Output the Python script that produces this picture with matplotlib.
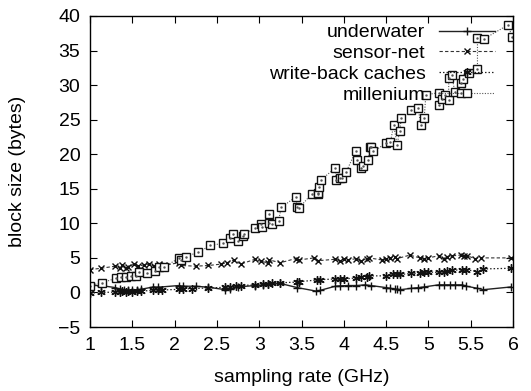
import matplotlib
matplotlib.use("Agg")
import matplotlib.pyplot as plt

plt.rcParams['font.family'] = ['Liberation Sans', 'DejaVu Sans']

# underwater (+, solid)
uw_x = [1.0, 1.13, 1.30, 1.35, 1.40, 1.45, 1.50, 1.55, 1.60, 1.75, 1.80, 2.05, 2.10, 2.25, 2.40,
        2.60, 2.65, 2.75, 2.95, 3.05, 3.10, 3.25, 3.45, 3.67, 3.72, 3.90, 3.95, 4.05, 4.15, 4.25,
        4.32, 4.50, 4.55, 4.60, 4.63, 4.67, 4.80, 4.88, 4.95, 5.12, 5.18, 5.25, 5.32, 5.40, 5.45,
        5.58, 5.65, 5.98]
uw_y = [1.0, 1.0, 0.7, 0.5, 0.4, 0.35, 0.35, 0.4, 0.45, 0.8, 0.75, 1.0, 0.9, 0.9, 0.75,
        0.4, 0.45, 0.8, 1.0, 1.1, 1.2, 1.3, 0.7, 0.2, 0.3, 0.9, 0.95, 1.0, 1.0, 1.1,
        1.0, 0.7, 0.6, 0.5, 0.45, 0.4, 0.6, 0.7, 0.8, 1.1, 1.1, 1.1, 1.1, 1.1, 0.9,
        0.6, 0.4, 0.8]

# sensor-net (x, dashed)
sn_x = [1.0, 1.13, 1.30, 1.35, 1.38, 1.42, 1.45, 1.52, 1.57, 1.64, 1.70, 1.76, 1.82, 1.87, 2.05,
        2.08, 2.25, 2.40, 2.55, 2.62, 2.70, 2.78, 2.95, 3.02, 3.10, 3.12, 3.25, 3.43, 3.47, 3.65,
        3.70, 3.90, 3.95, 4.00, 4.05, 4.15, 4.20, 4.27, 4.30, 4.45, 4.50, 4.55, 4.60, 4.63, 4.78,
        4.90, 4.95, 5.00, 5.12, 5.18, 5.22, 5.28, 5.38, 5.42, 5.46, 5.55, 5.62, 5.98]
sn_y = [3.3, 3.5, 3.8, 3.6, 4.0, 3.5, 3.7, 4.1, 3.8, 4.0, 4.1, 3.8, 4.1, 3.9, 4.3,
        3.9, 3.8, 3.9, 4.1, 4.3, 4.7, 4.1, 4.8, 4.5, 4.3, 4.7, 4.3, 4.9, 4.7, 5.0,
        4.6, 4.8, 4.6, 4.9, 4.7, 4.9, 4.5, 4.9, 5.0, 4.7, 4.8, 5.0, 5.1, 4.9, 5.4,
        5.0, 4.8, 5.0, 5.3, 4.9, 5.2, 5.3, 5.4, 5.3, 5.3, 4.9, 5.0, 5.0]

# write-back caches (*, dotted)
wb_x = [1.0, 1.13, 1.30, 1.35, 1.38, 1.42, 1.45, 1.50, 1.55, 1.60, 1.75, 1.80, 1.85, 2.05, 2.10,
        2.20, 2.40, 2.60, 2.65, 2.72, 2.78, 2.95, 3.05, 3.10, 3.15, 3.25, 3.45, 3.47, 3.68, 3.72,
        3.90, 3.95, 4.00, 4.15, 4.20, 4.27, 4.30, 4.50, 4.58, 4.63, 4.67, 4.80, 4.90, 4.95, 5.00,
        5.12, 5.18, 5.22, 5.28, 5.40, 5.45, 5.58, 5.65, 5.98]
wb_y = [-0.1, 0.0, 0.05, 0.1, 0.15, 0.1, 0.15, 0.1, 0.15, 0.2, 0.3, 0.4, 0.35, 0.45, 0.5,
        0.55, 0.65, 0.75, 0.85, 0.9, 1.0, 1.1, 1.2, 1.25, 1.3, 1.4, 1.5, 1.55, 1.8, 1.85,
        1.95, 1.9, 1.95, 2.1, 2.2, 2.25, 2.4, 2.4, 2.6, 2.7, 2.6, 2.75, 2.8, 2.9, 2.95,
        2.9, 3.0, 3.1, 3.2, 3.3, 3.3, 3.0, 3.4, 3.5]

# millenium (squares, dotted)
ml_x = [1.0, 1.14, 1.31, 1.37, 1.43, 1.48, 1.54, 1.58, 1.67, 1.77, 1.82, 1.87, 2.05, 2.08, 2.13,
        2.28, 2.42, 2.57, 2.65, 2.69, 2.75, 2.81, 2.82, 2.95, 3.02, 3.03, 3.11, 3.12, 3.15, 3.23,
        3.26, 3.43, 3.45, 3.47, 3.62, 3.69, 3.70, 3.71, 3.73, 3.90, 3.91, 3.96, 3.98, 4.03, 4.14,
        4.16, 4.20, 4.23, 4.29, 4.31, 4.32, 4.35, 4.50, 4.55, 4.59, 4.63, 4.66, 4.68, 4.80, 4.88,
        4.91, 4.95, 4.97, 5.12, 5.13, 5.16, 5.20, 5.24, 5.24, 5.28, 5.31, 5.39, 5.39, 5.41, 5.48,
        5.58, 5.58, 5.66, 5.94, 5.99]
ml_y = [1.0, 1.4, 2.05, 2.2, 2.2, 2.4, 2.35, 2.95, 2.8, 3.1, 3.65, 3.65, 4.95, 4.7, 5.2,
        5.8, 6.8, 7.1, 7.9, 8.4, 7.5, 8.1, 8.4, 9.3, 9.9, 9.45, 11.35, 10.0, 9.9, 10.4,
        12.3, 13.8, 12.3, 12.2, 14.25, 14.25, 14.35, 15.3, 16.3, 18.0, 16.2, 16.5, 16.5, 17.5, 20.4,
        19.2, 18.0, 18.3, 19.2, 21.1, 21.1, 20.4, 21.6, 21.7, 24.2, 21.4, 23.3, 25.2, 26.4, 26.65,
        24.2, 25.2, 28.6, 28.9, 27.1, 27.95, 28.6, 27.85, 31.1, 31.4, 29.05, 28.8, 30.35, 30.85, 31.8,
        32.3, 36.8, 36.7, 38.7, 37.0]

x_ticks = [1, 1.5, 2, 2.5, 3, 3.5, 4, 4.5, 5, 5.5, 6]
y_ticks = [-5, 0, 5, 10, 15, 20, 25, 30, 35, 40]

fig = plt.figure(figsize=(5.31, 3.91), dpi=100)
ax = fig.add_axes([90/531, 64/391, 423/531, 311/391])

ax.plot(uw_x, uw_y, linestyle='-', color='#222222', lw=1.0, marker='+', ms=6, mew=1.0,
        mec='#111111', label='underwater')
ax.plot(sn_x, sn_y, linestyle=(0, (3, 2)), color='#333333', lw=0.8, marker='x', ms=5, mew=1.0,
        mec='#111111', label='sensor-net')
ax.plot(wb_x, wb_y, linestyle=(0, (1.2, 1.6)), color='#222222', lw=0.9, marker=(6, 2, 0), ms=6,
        mew=1.0, mec='#111111', label='write-back caches')
ax.plot(ml_x, ml_y, linestyle=(0, (1, 1.4)), color='#555555', lw=0.8, marker='s', ms=5.5, mew=1.0,
        mfc='white', mec='#111111', label='millenium')
ax.plot(ml_x, ml_y, linestyle='none', marker='.', ms=1.5, color='#555555')

ax.set_xlim(1, 6)
ax.set_ylim(-5, 40)
ax.set_xticks(x_ticks)
ax.set_xticklabels([f"{t:g}" for t in x_ticks])
ax.set_yticks(y_ticks)
ax.tick_params(direction='in', top=True, right=True, length=5, width=0.8, labelsize=14, pad=7)
for s in ax.spines.values():
    s.set_linewidth(1.0)

ax.set_xlabel('sampling rate (GHz)', fontsize=14)
ax.set_ylabel('block size (bytes)', fontsize=14)
ax.xaxis.set_label_coords(0.5, -0.135)
ax.yaxis.set_label_coords(-0.152, 0.5)

leg = ax.legend(loc='upper right', frameon=False, markerfirst=False, fontsize=14,
                handlelength=2.9, handletextpad=0.7, labelspacing=0.16,
                borderaxespad=0.0, bbox_to_anchor=(0.977, 1.0))

fig.savefig('out.png', dpi=100)
